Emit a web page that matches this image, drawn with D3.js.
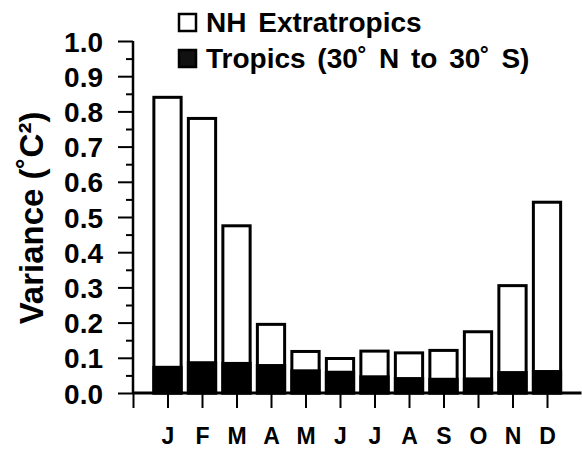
<!DOCTYPE html>
<html>
<head>
<meta charset="utf-8">
<script src="https://cdn.jsdelivr.net/npm/d3@7"></script>
<style>
  html, body { margin: 0; padding: 0; background: #fff; }
  svg { display: block; font-family: "Liberation Sans", Arial, Helvetica, sans-serif; font-weight: bold; }
</style>
</head>
<body>
<svg id="chart" width="582" height="449"></svg>
<script>
// Monthly temperature variance by region
const months = ["J", "F", "M", "A", "M", "J", "J", "A", "S", "O", "N", "D"];
const nhExtratropics = [0.84, 0.78, 0.475, 0.195, 0.118, 0.098, 0.119, 0.114, 0.121, 0.174, 0.305, 0.542];
const tropics = [0.073, 0.086, 0.084, 0.078, 0.063, 0.059, 0.046, 0.041, 0.039, 0.040, 0.058, 0.061];
const yTicks = [0, 0.1, 0.2, 0.3, 0.4, 0.5, 0.6, 0.7, 0.8, 0.9, 1.0];
const legendLabels = ["NH Extratropics", "Tropics (30˚ N to 30˚ S)"];

const svg = d3.select("#chart");

// month index 1..12 sits at bar centre; 0 is the y-axis
const x = d3.scaleLinear().domain([0, 13]).range([133, 581.5]);
const y = d3.scaleLinear().domain([0, 1]).range([393, 41]);
const barW = (x(1) - x(0)) * 0.79;

const rows = months.map((m, i) => ({ m, i: i + 1, nh: nhExtratropics[i], tr: tropics[i] }));

// NH extratropics bars (open)
svg.append("g").selectAll("rect").data(rows).join("rect")
  .attr("x", d => x(d.i) - barW / 2)
  .attr("width", barW)
  .attr("y", d => y(d.nh))
  .attr("height", d => y(0) - y(d.nh))
  .attr("fill", "#fff")
  .attr("stroke", "#000")
  .attr("stroke-width", 3);

// Tropics bars (solid), drawn in front
svg.append("g").selectAll("rect").data(rows).join("rect")
  .attr("x", d => x(d.i) - barW / 2)
  .attr("width", barW)
  .attr("y", d => y(d.tr))
  .attr("height", d => y(0) - y(d.tr))
  .attr("fill", "#000")
  .attr("stroke", "#000")
  .attr("stroke-width", 3);

// Y axis: major ticks with labels, minor ticks between
const yAxis = d3.axisLeft(y).tickValues(yTicks).tickFormat(d3.format(".1f")).tickSize(15).tickPadding(15);
const gy = svg.append("g").attr("transform", `translate(${x(0)},0)`).call(yAxis);
gy.select(".domain").attr("stroke-width", 2.5).attr("d", `M0,${y(1)}V${y(0)}`);
gy.selectAll(".tick line").attr("stroke-width", 2);
gy.selectAll(".tick text")
  .attr("font-size", 28).attr("font-weight", "bold")
  .attr("font-family", "Liberation Sans, Arial, sans-serif").attr("fill", "#000")
  .attr("dy", "0.36em");

const minor = d3.range(0.05, 1, 0.1);
svg.append("g").attr("transform", `translate(${x(0)},0)`)
  .call(d3.axisLeft(y).tickValues(minor).tickSize(7).tickFormat(""))
  .call(g => g.select(".domain").remove())
  .selectAll(".tick line").attr("stroke-width", 2);

// X axis: ticks at bar centres, month letters below
const xAxis = d3.axisBottom(x).tickValues(d3.range(0, 13)).tickSize(15)
  .tickFormat(d => d === 0 ? "" : months[d - 1]).tickPadding(20);
const gx = svg.append("g").attr("transform", `translate(0,${y(0)})`).call(xAxis);
gx.select(".domain").attr("stroke-width", 3).attr("d", `M${x(0)},0H${x(13)}`);
gx.selectAll(".tick line").attr("stroke-width", 2);
gx.selectAll(".tick text")
  .attr("font-size", 23).attr("font-weight", "bold")
  .attr("font-family", "Liberation Sans, Arial, sans-serif").attr("fill", "#000")
  .attr("dy", "0.71em");

// Y axis title
svg.append("text")
  .attr("transform", `translate(43,218) rotate(-90)`)
  .attr("text-anchor", "middle")
  .attr("font-size", 33)
  .attr("fill", "#000")
  .text("Variance (˚C²)");

// Legend
const legend = svg.append("g").attr("transform", "translate(178,13)");
const items = legend.selectAll("g").data(legendLabels).join("g")
  .attr("transform", (d, i) => `translate(0,${i * 36})`);
items.append("rect")
  .attr("x", 1).attr("y", 1).attr("width", 17).attr("height", 17)
  .attr("fill", (d, i) => i === 0 ? "#fff" : "#111")
  .attr("stroke", "#000").attr("stroke-width", 2.5);
items.append("text")
  .attr("x", 28).attr("y", 19)
  .attr("font-size", 28).attr("word-spacing", 4).attr("fill", "#000")
  .text(d => d);
</script>
</body>
</html>
